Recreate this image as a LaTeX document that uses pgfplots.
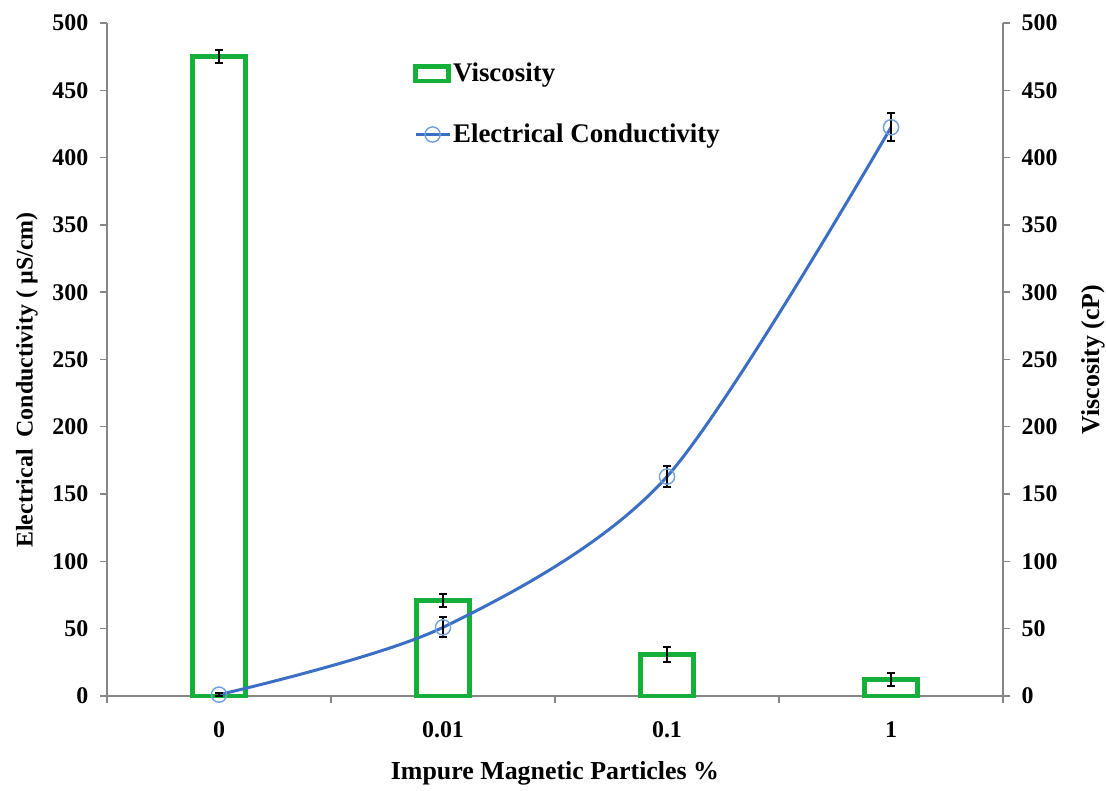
\documentclass[border=0pt]{standalone}
\usepackage{fontspec}
\setmainfont{Liberation Serif}
\usepackage{pgfplots}
\usepackage{pgfplotstable}
\pgfplotsset{compat=1.18}
\definecolor{vgreen}{RGB}{20,176,58}
\definecolor{lblue}{RGB}{58,111,196}
\definecolor{mblue}{RGB}{110,158,222}
\definecolor{axgray}{RGB}{134,134,134}

\pgfplotstableread{
x v e
0 475 4.8
1 71 5
2 31 5.5
3 12.5 4.8
}\visc
\pgfplotstableread{
x c e
0 1 1
1 51 7.4
2 163 8
3 422.5 10.4
}\cond

\begin{document}
\begin{tikzpicture}
\pgfplotsset{
 common/.style={
  scale only axis, width=448bp, height=336.5bp,
  xmin=-0.5, xmax=3.5, ymin=0, ymax=500,
  ytick={0,50,...,500},
  tick align=outside, major tick length=3.5bp,
  axis line style={draw=axgray, line width=0.7bp},
  tick style={draw=axgray, line width=0.7bp},
  tick label style={font=\bfseries\fontsize{12}{14}\selectfont, black},
  label style={font=\bfseries\fontsize{13}{15}\selectfont},
  /pgf/number format/assume math mode=true,
  clip=false,
 }
}
\begin{axis}[common, name=ax,
  axis y line*=right, axis x line*=bottom,
  xtick={-0.5,0.5,1.5,2.5,3.5}, xticklabels={},
  yticklabel style={xshift=2.3bp},
  ylabel={Viscosity (cP)},
  ylabel style={at={(axis description cs:1.1004,0.5)}, anchor=center},
]
\addplot[ybar, bar width=26.5bp, draw=vgreen, line width=2.4bp, fill=none,
  error bars/.cd, y dir=both, y explicit,
  error bar style={black, line width=1.1bp},
  error mark options={rotate=90, black, mark size=2bp, line width=1.1bp}]
  table[x=x, y=v, y error=e] {\visc};
\end{axis}
\begin{axis}[common,
  axis y line*=left, axis x line*=bottom,
  x axis line style={draw=none},
  xtick={0,1,2,3}, xticklabels={0,0.01,0.1,1},
  xtick style={draw=none},
  xticklabel style={yshift=-6bp},
  yticklabel style={xshift=-2.3bp},
  xlabel={Impure Magnetic Particles \%},
  xlabel style={at={(axis description cs:0.5,-0.1144)}, anchor=center},
  ylabel={Electrical\ \ Conductivity ( µS/cm)},
  ylabel style={at={(axis description cs:-0.0893,0.4695)}, anchor=center, font=\bfseries\fontsize{12}{14}\selectfont},
  legend style={at={(axis description cs:0.3415,0.947)}, anchor=north west,
    draw=none, fill=none, font=\bfseries\fontsize{13.5}{15}\selectfont,
    row sep=15.5bp, inner sep=0pt, /tikz/every node/.append style={inner xsep=1pt}},
  legend cell align=left,
]
\addlegendimage{legend image code/.code={\draw[vgreen, line width=2.2bp, fill=white] (0bp,-3.6bp) rectangle (16.5bp,3.6bp);}}
\addlegendentry{Viscosity}
\addplot[smooth, tension=0.5, color=lblue, line width=1.5bp,
  mark=o, mark size=3.8bp, mark options={draw=mblue, line width=0.7bp, solid},
  error bars/.cd, y dir=both, y explicit,
  error bar style={black, line width=1.1bp},
  error mark options={rotate=90, black, mark size=2bp, line width=1.1bp}]
  table[x=x, y=c, y error=e] {\cond};
\addlegendentry{Electrical Conductivity}
\end{axis}
\pgfresetboundingbox
\path ([shift={(-53.5bp,-47.5bp)}]ax.south west) rectangle ([shift={(51.5bp,11.5bp)}]ax.north east);
\end{tikzpicture}
\end{document}
